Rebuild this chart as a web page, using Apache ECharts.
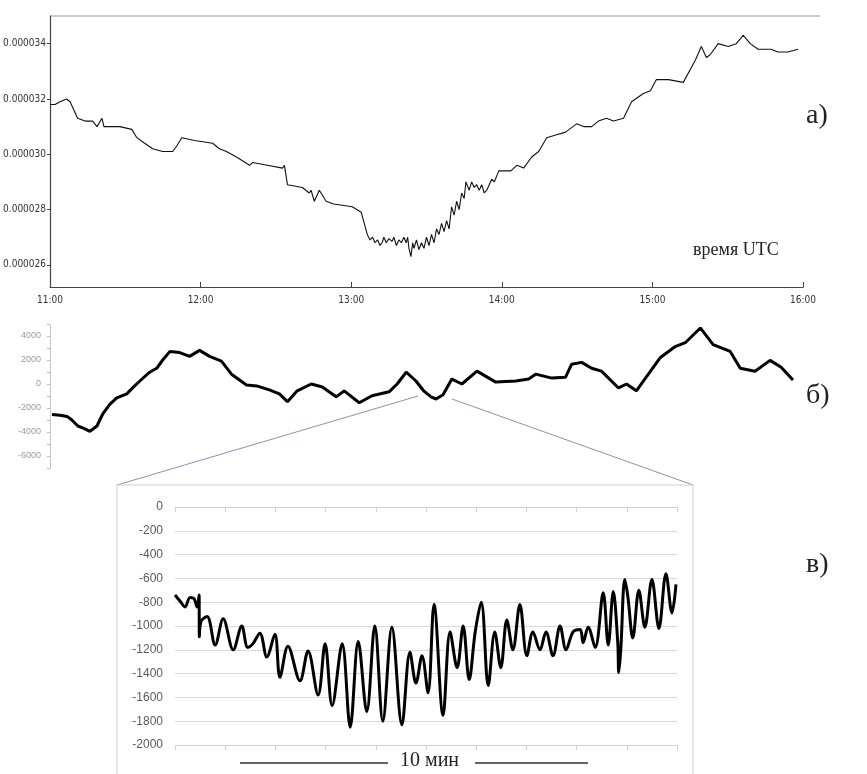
<!DOCTYPE html>
<html><head><meta charset="utf-8">
<script src="https://cdn.jsdelivr.net/npm/echarts@6/dist/echarts.min.js"></script>
<style>html,body{margin:0;padding:0;background:#fff}#c{width:867px;height:774px}</style>
</head><body><div id="c"></div>
<script>
// Panel a: minutes after 11:00 UTC and value
const aMinutes = [0,2,4,6.6,8,9.5,11,14,17,18.7,20.7,21.5,27.8,32.6,34.6,37.7,40.9,44.9,48.9,50.5,52.5,57.6,64.8,67.5,70.3,74.3,79.5,80.7,86.6,92.6,93.4,94.6,100.5,103.3,104,105.3,107.3,110,113,120.4,124,126.4,127.5,128.5,129.5,130.5,131.5,132.3,133,134,135,136.3,137,138,139,140,141,141.9,142.5,143,143.8,144.5,145,146,147,148,149,150,151,152,153,154,155,156,157,158,159,160,161,162,163,164,165,165.7,167,168,169,170,171,172,173,174,175,176,177,178.8,183.6,186,188.7,191.9,194.7,197.9,201.5,205.4,209.8,212.6,215.8,218.5,221.7,224.5,228.5,231.7,236.4,239.2,241.6,246.4,252.3,257.1,259.5,261.5,263,266.2,270.2,273.4,276.2,279,282.1,287.3,290,294,298];
const aValues = [0.0000318,0.0000318,0.0000319,0.0000320,0.0000319,0.0000316,0.0000313,0.0000312,0.0000312,0.0000310,0.0000313,0.0000310,0.0000310,0.0000309,0.0000306,0.0000304,0.0000302,0.0000301,0.0000301,0.0000303,0.0000306,0.0000305,0.0000304,0.0000302,0.0000301,0.0000299,0.0000296,0.0000297,0.0000296,0.0000295,0.0000296,0.0000289,0.0000288,0.0000286,0.0000287,0.0000283,0.0000287,0.0000283,0.0000282,0.0000281,0.0000279,0.0000271,0.0000269,0.0000270,0.0000268,0.0000269,0.0000267,0.0000268,0.0000270,0.0000268,0.00002695,0.00002685,0.0000270,0.0000267,0.0000269,0.0000268,0.0000270,0.0000268,0.0000270,0.0000266,0.0000263,0.0000268,0.0000266,0.0000269,0.00002655,0.0000268,0.0000266,0.0000270,0.0000267,0.0000271,0.0000268,0.0000273,0.0000271,0.0000275,0.0000272,0.0000276,0.0000273,0.0000281,0.0000278,0.0000283,0.0000280,0.0000286,0.0000284,0.0000290,0.0000287,0.0000290,0.0000288,0.0000289,0.0000287,0.0000289,0.0000286,0.0000287,0.0000289,0.0000291,0.0000290,0.0000294,0.0000294,0.0000296,0.0000295,0.0000299,0.0000301,0.0000306,0.0000307,0.0000308,0.0000311,0.0000310,0.0000310,0.0000312,0.0000313,0.0000312,0.0000313,0.0000319,0.0000322,0.0000323,0.0000327,0.0000327,0.0000326,0.0000334,0.0000339,0.0000335,0.0000336,0.0000340,0.0000339,0.0000340,0.0000343,0.0000340,0.0000338,0.0000338,0.0000337,0.0000337,0.0000338];
const aTickValues = [0.000026,0.000028,0.000030,0.000032,0.000034];
const aTimeLabels = ['11:00','12:00','13:00','14:00','15:00','16:00'];

// Panel b: minutes after 11:00 and value
const bMinutes = [0.8,4,6.8,8.7,11.1,13.5,15.9,18.7,21.1,23.8,26.6,30.6,33,35.8,39.7,42.5,44.9,47.7,51.7,55.6,59.6,63.6,68.3,72.3,78.3,82.3,87.4,91.4,94.6,98.5,104.1,108.5,114,117.2,123.2,128.3,135.1,138.3,141.9,145.8,149,151.8,153.8,156.6,160.1,164.1,170.1,177.6,185.6,190.7,193.5,199.9,205.4,207.8,211.8,215.8,219.7,226.5,229.7,233.6,238.4,243.2,249.1,253.1,259.1,264.2,271,275,280.9,286.9,291.3,296];
const bValues = [-2540,-2600,-2700,-3000,-3500,-3700,-3940,-3500,-2460,-1700,-1150,-820,-300,250,980,1310,2000,2700,2620,2300,2800,2300,1900,820,-80,-160,-490,-820,-1470,-570,0,-250,-1070,-570,-1560,-980,-650,0,980,250,-600,-1070,-1250,-900,410,0,1070,160,250,410,820,490,570,1640,1800,1310,1070,-330,0,-570,820,2210,3120,3440,4670,3280,2710,1310,1070,1970,1390,330];

// Panel c: position along 10-division axis and value
const cTime = [0,1.0,2.0,3.0,3.8,4.4,4.8,4.85,5.2,6.4,8.0,9.6,11.6,13.3,14.5,15.5,16.9,18.3,19.9,20.9,22.5,24.9,26.5,28.5,29.9,31.3,33.3,34.9,36.5,38.2,39.8,41.4,43.2,45.2,46.8,48.0,49.2,50.4,51.6,53.4,54.8,56.2,57.4,58.6,59.8,61.0,62.4,63.7,64.9,66.1,67.3,68.7,70.1,71.3,72.7,73.9,75.3,76.7,77.9,79.3,80.7,81.3,82.3,83.7,85.3,86.3,87.3,88.2,88.4,88.8,89.6,90.2,91.2,92.4,93.6,95.0,96.4,97.8,99.0,99.8];
const cValues = [-740,-790,-840,-760,-770,-840,-740,-1090,-960,-920,-1160,-940,-1200,-1000,-1180,-1150,-1060,-1260,-1070,-1430,-1170,-1460,-1210,-1580,-1150,-1670,-1150,-1850,-1130,-1720,-1000,-1800,-1010,-1830,-1220,-1480,-1250,-1560,-820,-1750,-1050,-1350,-1000,-1450,-1050,-800,-1500,-1050,-1350,-950,-1200,-820,-1250,-1050,-1200,-1050,-1250,-1000,-1200,-1050,-1030,-1140,-1010,-1180,-720,-1160,-710,-1140,-1390,-1200,-610,-750,-1100,-700,-1010,-610,-1020,-560,-890,-650];

const zip = (xs, ys) => xs.map((x, i) => [x, ys[i]]);
const narrow = '"DejaVu Sans Condensed","Liberation Sans Narrow",sans-serif';
const serif = '"Liberation Serif","DejaVu Serif",serif';

const chart = echarts.init(document.getElementById('c'), null, {renderer: 'canvas'});
chart.setOption({
  animation: false,
  backgroundColor: '#fff',
  grid: [
    {left: 50, top: 16, width: 753, height: 271},
    {left: 50, top: 324, width: 753, height: 144},
    {left: 175, top: 507, width: 502, height: 238}
  ],
  xAxis: [
    {gridIndex: 0, type: 'value', min: 0, max: 300, interval: 60,
     axisLine: {lineStyle: {color: '#444', width: 1.2}},
     axisTick: {inside: true, length: 5, lineStyle: {color: '#444'}},
     axisLabel: {color: '#333', fontSize: 10, fontFamily: narrow, margin: 8,
       formatter: v => aTimeLabels[Math.round(v / 60)]},
     splitLine: {show: false}},
    {gridIndex: 1, type: 'value', min: 0, max: 300, show: false},
    {gridIndex: 2, type: 'value', min: 0, max: 100, interval: 10, position: 'top',
     axisLine: {onZero: false, lineStyle: {color: '#d0d0d0'}},
     axisTick: {inside: true, length: 5, lineStyle: {color: '#d0d0d0'}},
     axisLabel: {show: false}, splitLine: {show: false}},
    {gridIndex: 2, type: 'value', min: 0, max: 100, interval: 10, position: 'bottom',
     axisLine: {onZero: false, lineStyle: {color: '#d0d0d0'}},
     axisTick: {length: 5, lineStyle: {color: '#d0d0d0'}},
     axisLabel: {show: false}, splitLine: {show: false}}
  ],
  yAxis: [
    {gridIndex: 0, type: 'value', min: 0.0000252, max: 0.000035,
     axisLine: {show: true, lineStyle: {color: '#444', width: 1.2}},
     axisTick: {show: true, length: 3, customValues: aTickValues, lineStyle: {color: '#444'}},
     axisLabel: {color: '#333', fontSize: 10, fontFamily: narrow, margin: 4,
       customValues: aTickValues, formatter: v => v.toFixed(6)},
     splitLine: {show: false}},
    {gridIndex: 1, type: 'value', min: -7000, max: 5000, interval: 1000,
     axisLine: {show: true, lineStyle: {color: '#b8b8d0', type: 'dotted', width: 1}},
     axisTick: {show: true, length: 3, lineStyle: {color: '#b8b8d0'}},
     axisLabel: {color: '#9a9a9a', fontSize: 9, fontFamily: '"Liberation Sans",sans-serif', margin: 9,
       formatter: v => (Math.abs(v) % 2000 === 0 && v > -7000 && v < 5000) ? String(v) : ''},
     splitLine: {show: false}},
    {gridIndex: 2, type: 'value', min: -2000, max: 0, interval: 200,
     axisLine: {show: false}, axisTick: {show: false},
     axisLabel: {color: '#595959', fontSize: 12, fontFamily: '"Liberation Sans",sans-serif', margin: 12,
       formatter: v => String(v)},
     splitLine: {show: true, lineStyle: {color: '#d9d9d9', width: 1}}}
  ],
  series: [
    {type: 'line', xAxisIndex: 0, yAxisIndex: 0, data: zip(aMinutes, aValues), showSymbol: false,
     lineStyle: {color: '#111', width: 1.1}},
    {type: 'line', xAxisIndex: 1, yAxisIndex: 1, data: zip(bMinutes, bValues), showSymbol: false,
     lineStyle: {color: '#000', width: 3}},
    {type: 'line', xAxisIndex: 2, yAxisIndex: 2, data: zip(cTime, cValues), showSymbol: false,
     smooth: 0.35, lineStyle: {color: '#000', width: 3}}
  ],
  graphic: [
    {type: 'line', shape: {x1: 50, y1: 16, x2: 820, y2: 16}, style: {stroke: '#999', lineWidth: 1}},
    {type: 'text', left: 693, top: 241, style: {text: 'время UTC', font: '18px ' + serif, fill: '#222'}},
    {type: 'text', left: 806, top: 102, style: {text: 'а)', font: '28px ' + serif, fill: '#222'}},
    {type: 'text', left: 806, top: 382, style: {text: 'б)', font: '28px ' + serif, fill: '#222'}},
    {type: 'text', left: 806, top: 551, style: {text: 'в)', font: '28px ' + serif, fill: '#222'}},
    {type: 'line', shape: {x1: 117, y1: 485, x2: 418, y2: 396}, style: {stroke: '#8593b5', lineWidth: 1}},
    {type: 'line', shape: {x1: 452, y1: 399, x2: 693, y2: 485}, style: {stroke: '#8593b5', lineWidth: 1}},
    {type: 'rect', shape: {x: 117, y: 485, width: 576, height: 300}, style: {fill: 'none', stroke: '#cfcfcf', lineWidth: 1}},
    {type: 'line', shape: {x1: 240, y1: 763, x2: 388, y2: 763}, style: {stroke: '#333', lineWidth: 1.3}},
    {type: 'line', shape: {x1: 475, y1: 763, x2: 588, y2: 763}, style: {stroke: '#333', lineWidth: 1.3}},
    {type: 'text', left: 400, top: 751, style: {text: '10 мин', font: '20px ' + serif, fill: '#222'}}
  ]
});
</script>
</body></html>
